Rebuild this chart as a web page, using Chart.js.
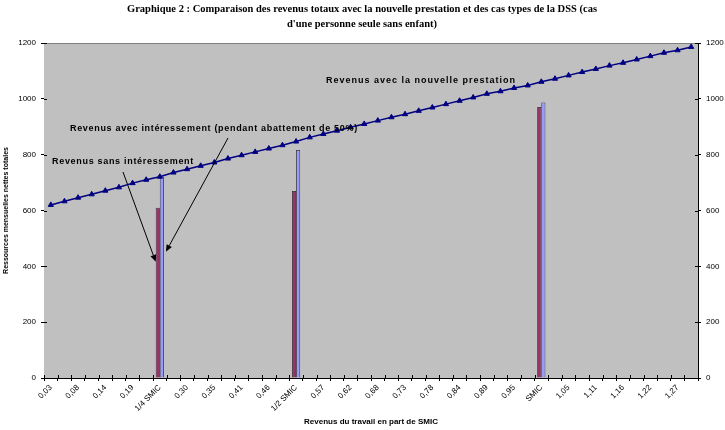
<!DOCTYPE html>
<html>
<head>
<meta charset="utf-8">
<script src="https://cdn.jsdelivr.net/npm/chart.js@4"></script>
<style>
  html, body { margin: 0; padding: 0; background: #fff; }
  #wrap { width: 725px; height: 430px; }
</style>
</head>
<body>
<div id="wrap"><canvas id="chart"></canvas></div>
<script>

// ---------------- DATA ----------------

const tickLabels = [
  "0,03", "0,08", "0,14", "0,19", "1/4 SMIC", "0,30", "0,35", "0,41",
  "0,46", "1/2 SMIC", "0,57", "0,62", "0,68", "0,73", "0,78", "0,84",
  "0,89", "0,95", "SMIC", "1,05", "1,11", "1,16", "1,22", "1,27"
];

// 48 levels of earnings, one tick label every second level
const categories = [];
for (let i = 0; i < 48; i++) {
  categories.push(i % 2 === 0 ? tickLabels[i / 2] : "");
}

const nouvellePrestation = [
  620, 633, 646, 658, 671, 683, 698, 710, 721, 736, 748, 760,
  772, 786, 798, 810, 822, 834, 847, 862, 874, 886, 898, 910,
  922, 934, 945, 957, 969, 981, 993, 1005, 1018, 1027, 1039, 1048,
  1061, 1072, 1084, 1096, 1107, 1119, 1129, 1141, 1153, 1165, 1174, 1186
];

// DSS typical cases : 1/4 SMIC, 1/2 SMIC, SMIC
const casTypesIndex = [8, 18, 36];
const sansInteressement = [610, 670, 971];
const avecInteressement = [721, 817, 987];

const yTicks = [0, 200, 400, 600, 800, 1000, 1200];

const titleLines = [
  "Graphique 2 : Comparaison des revenus totaux avec la nouvelle prestation et des cas types de la DSS (cas",
  "d'une personne seule sans enfant)"
];


function spread(values) {
  const out = categories.map(() => null);
  casTypesIndex.forEach((c, i) => { out[c] = values[i]; });
  return out;
}


// ---------------- DRAWING HELPERS ----------------

const SANS = "'Liberation Sans', Arial, sans-serif";
const SERIF = "'Liberation Serif', 'Times New Roman', serif";

function fitText(ctx, text, x, y, width, align) {
  const w = ctx.measureText(text).width;
  const sx = width / w;
  ctx.save();
  ctx.translate(align === "center" ? x - width / 2 : x, y);
  ctx.scale(sx, 1);
  ctx.textAlign = "left";
  ctx.fillText(text, 0, 0);
  ctx.restore();
  return sx;
}

// Excel-like spaced label: widen with letter spacing instead of stretching
function spacedText(ctx, text, x, y, width) {
  ctx.save();
  ctx.letterSpacing = "0px";
  const w = ctx.measureText(text).width;
  const sp = Math.max(0, (width - w) / text.length);
  ctx.letterSpacing = sp.toFixed(2) + "px";
  ctx.textAlign = "left";
  ctx.fillText(text, x, y);
  ctx.restore();
}

function arrow(ctx, x1, y1, x2, y2) {
  const a = Math.atan2(y2 - y1, x2 - x1);
  const len = 7, half = 3;
  ctx.beginPath();
  ctx.moveTo(x1, y1);
  ctx.lineTo(x2 - Math.cos(a) * len, y2 - Math.sin(a) * len);
  ctx.stroke();
  ctx.beginPath();
  ctx.moveTo(x2, y2);
  ctx.lineTo(x2 - Math.cos(a) * len - Math.sin(a) * half, y2 - Math.sin(a) * len + Math.cos(a) * half);
  ctx.lineTo(x2 - Math.cos(a) * len + Math.sin(a) * half, y2 - Math.sin(a) * len - Math.cos(a) * half);
  ctx.closePath();
  ctx.fill();
}


const excelLook = {
  id: "excelLook",

  beforeDatasetsDraw(chart) {
    const { ctx, chartArea: a } = chart;
    ctx.save();
    ctx.fillStyle = "#C0C0C0";
    ctx.fillRect(a.left, a.top, a.right - a.left, a.bottom - a.top);
    ctx.strokeStyle = "#808080";
    ctx.lineWidth = 1;
    ctx.beginPath();
    ctx.moveTo(a.left, a.top + 0.5);
    ctx.lineTo(a.right, a.top + 0.5);
    ctx.stroke();
    ctx.restore();
  },

  afterDraw(chart) {
    const { ctx, chartArea: a, scales } = chart;
    ctx.save();

    // inner half of the crossing tick marks
    ctx.strokeStyle = "#000";
    ctx.lineWidth = 1;
    ctx.beginPath();
    const step = (a.right - a.left) / categories.length;
    for (let i = 0; i <= categories.length; i++) {
      const x = Math.round(a.left + i * step) + 0.5;
      ctx.moveTo(x, a.bottom);
      ctx.lineTo(x, a.bottom - 3);
    }
    yTicks.forEach(v => {
      const y = Math.round(scales.y.getPixelForValue(v)) + 0.5;
      ctx.moveTo(a.left, y);
      ctx.lineTo(a.left + 3, y);
      ctx.moveTo(a.right, y);
      ctx.lineTo(a.right - 3, y);
    });
    ctx.stroke();

    // title
    ctx.fillStyle = "#000";
    ctx.textBaseline = "middle";
    ctx.font = "bold 10.5px " + SERIF;
    const sx = fitText(ctx, titleLines[0], 362, 9, 470, "center");
    const w2 = ctx.measureText(titleLines[1]).width * sx;
    fitText(ctx, titleLines[1], 362, 24, w2, "center");

    // annotations
    ctx.font = "bold 9px " + SANS;
    spacedText(ctx, "Revenus avec la nouvelle prestation", 326, 81, 190);
    spacedText(ctx, "Revenus avec intéressement (pendant abattement de 50%)", 70, 129, 288);
    spacedText(ctx, "Revenus sans intéressement", 52, 162, 142);

    const sansBar = chart.getDatasetMeta(1).data[casTypesIndex[0]];
    const avecBar = chart.getDatasetMeta(2).data[casTypesIndex[0]];
    ctx.fillStyle = "#000";
    ctx.strokeStyle = "#000";
    ctx.lineWidth = 1;
    arrow(ctx, 123, 172,
      sansBar.x - sansBar.width / 2, scales.y.getPixelForValue(416));
    arrow(ctx, 228, 138,
      avecBar.x + avecBar.width / 2 + 2, scales.y.getPixelForValue(452));

    ctx.restore();
  }
};


// ---------------- CHART ----------------

const tickFont = { family: SANS, size: 8 };

const yScale = (position, width) => ({
  type: "linear",
  position: position,
  min: 0,
  max: 1200,
  afterBuildTicks: s => { s.ticks = yTicks.map(v => ({ value: v })); },
  afterFit: s => { s.width = width; },
  border: { display: true, color: "#000", width: 1 },
  grid: {
    drawOnChartArea: false,
    drawTicks: true,
    tickLength: 3,
    color: "#000"
  },
  ticks: {
    font: tickFont,
    color: "#000",
    padding: 5,
    callback: v => String(v)
  }
});

const yLeft = yScale("left", 44);
yLeft.title = {
  display: true,
  text: "Ressources mensuelles nettes totales",
  font: { family: SANS, size: 7, weight: "bold" },
  color: "#000",
  padding: { top: 2, bottom: 2 }
};

const yRight = yScale("right", 27);


new Chart(document.getElementById("chart"), {
  data: {
    labels: categories,
    datasets: [
      {
        type: "line",
        label: "Revenus avec la nouvelle prestation",
        data: nouvellePrestation,
        borderColor: "#000080",
        backgroundColor: "#000080",
        borderWidth: 1.5,
        pointStyle: "triangle",
        pointRadius: 3,
        pointBackgroundColor: "#000080",
        pointBorderColor: "#000080",
        pointBorderWidth: 1,
        tension: 0,
        order: 0,
        yAxisID: "y"
      },
      {
        type: "bar",
        label: "Revenus sans intéressement",
        data: spread(sansInteressement),
        backgroundColor: "#993366",
        borderColor: "#222",
        borderWidth: 0.8,
        categoryPercentage: 0.6,
        barPercentage: 1,
        order: 1,
        yAxisID: "y"
      },
      {
        type: "bar",
        label: "Revenus avec intéressement",
        data: spread(avecInteressement),
        backgroundColor: "#9999FF",
        borderColor: "#222",
        borderWidth: 0.8,
        categoryPercentage: 0.6,
        barPercentage: 1,
        order: 1,
        yAxisID: "y"
      }
    ]
  },
  options: {
    responsive: true,
    maintainAspectRatio: false,
    animation: false,
    layout: { padding: { top: 43, left: 0, right: 0, bottom: 0 } },
    plugins: {
      legend: { display: false },
      title: { display: false },
      tooltip: { enabled: false }
    },
    scales: {
      x: {
        type: "category",
        offset: true,
        afterFit: s => { s.height = 52; },
        border: { display: true, color: "#000", width: 1 },
        grid: {
          offset: true,
          drawOnChartArea: false,
          drawTicks: true,
          tickLength: 3,
          color: "#000"
        },
        ticks: {
          autoSkip: false,
          maxRotation: 45,
          minRotation: 45,
          font: { family: SANS, size: 8 },
          color: "#000",
          padding: 2
        },
        title: {
          display: true,
          text: "Revenus du travail en part de SMIC",
          font: { family: SANS, size: 8, weight: "bold" },
          color: "#000",
          padding: { top: 0, bottom: 3 }
        }
      },
      y: yLeft,
      y2: yRight
    }
  },
  plugins: [excelLook]
});

</script>
</body>
</html>
